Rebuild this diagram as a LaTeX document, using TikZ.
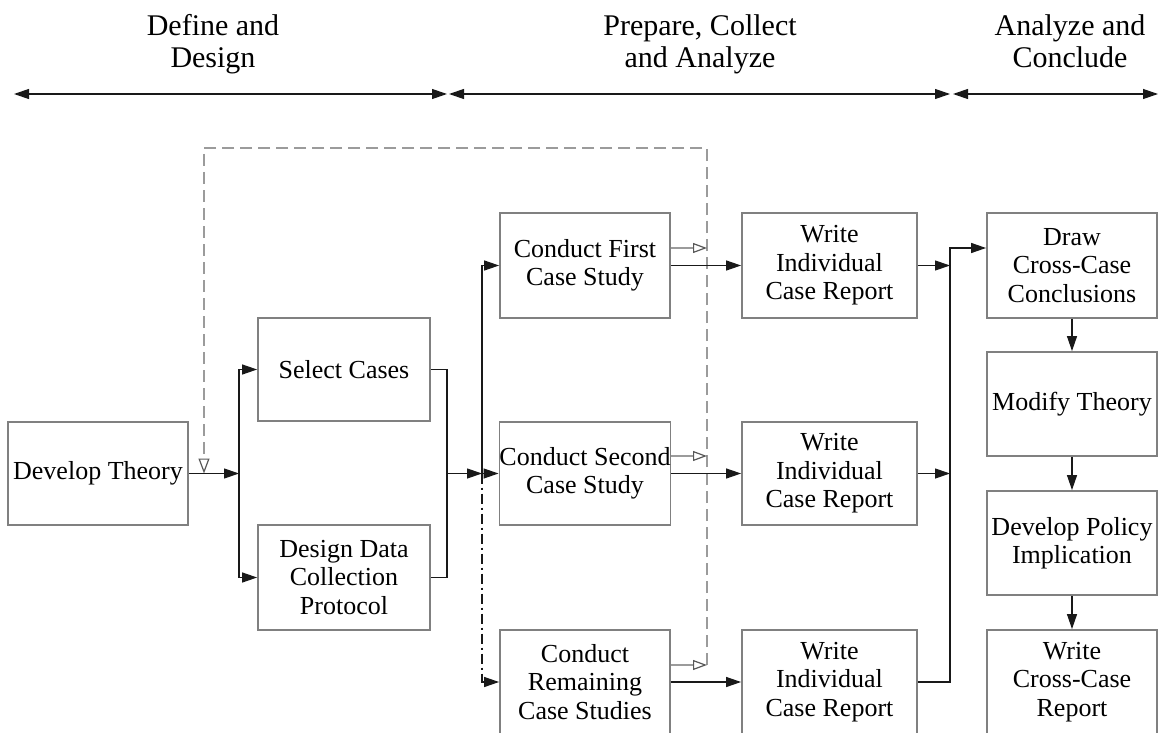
\documentclass[tikz,border=0pt]{standalone}
\usepackage{fontspec}
\setmainfont{Liberation Serif}
\usetikzlibrary{arrows.meta}
\definecolor{boxgray}{RGB}{128,128,128}
\definecolor{lnk}{RGB}{25,25,25}
\definecolor{fbgray}{RGB}{155,155,155}
\begin{document}
\begin{tikzpicture}[x=1pt,y=-1pt,
  box/.style={draw=boxgray,line width=1.8pt,align=center,inner sep=0pt,
    font=\fontsize{26}{28.5}\selectfont},
  hd/.style={align=center,inner sep=0pt,font=\fontsize{30}{32}\selectfont},
  ln/.style={draw=lnk,line width=1.2pt},
  arr/.style={ln,-{Triangle[length=15pt,width=10pt]}},
  hdr/.style={ln,{Triangle[length=15pt,width=10pt]}-{Triangle[length=15pt,width=10pt]}},
  dashdot/.style={dash pattern=on 10pt off 4pt on 2pt off 4pt},
  fb/.style={draw=fbgray,line width=2.4pt,dash pattern=on 12pt off 6pt,
    -{Triangle[open,length=15pt,width=11pt,line width=1.2pt,color=black!65]}},
  fbs/.style={draw=fbgray,line width=1.3pt,
    -{Triangle[open,length=14pt,width=10pt,line width=1.2pt,color=black!65]}}]
\useasboundingbox (0,0) rectangle (1159,733);
\clip (0,0) rectangle (1159,733);

% header
\node[hd] (t1) at (213,44) {Define and\\Design};
\node[hd] (t2) at (700,44) {Prepare, Collect\\and Analyze};
\node[hd] (t3) at (1070,41) {Analyze and\\Conclude};
\coordinate (a1) at (14,94);
\coordinate (a2) at (447,94);
\coordinate (a3) at (449,94);
\coordinate (a4) at (950,94);
\coordinate (a5) at (953,94);
\coordinate (a6) at (1158,94);
\draw[hdr] (a1) -- (a2);
\draw[hdr] (a3) -- (a4);
\draw[hdr] (a5) -- (a6);

% boxes
\node[box,minimum width=180pt,minimum height=103pt] (dt) at (98,473.5) {Develop Theory};
\node[box,minimum width=172pt,minimum height=103pt] (sc) at (344,369.5) {Select Cases};
\node[box,minimum width=172pt,minimum height=105pt] (dd) at (344,577.5) {Design Data\\Collection\\Protocol};
\node[box,minimum width=170pt,minimum height=105pt] (c1) at (585,265.5) {Conduct First\\Case Study};
\node[box,minimum width=170pt,minimum height=103pt] (c2) at (585,473.5) {Conduct Second\\Case Study};
\node[box,minimum width=170pt,minimum height=104pt] (c3) at (585,682) {Conduct\\Remaining\\Case Studies};
\node[box,minimum width=175pt,minimum height=105pt] (w1) at (829.5,265.5) {Write\\Individual\\Case Report};
\node[box,minimum width=175pt,minimum height=103pt] (w2) at (829.5,473.5) {Write\\Individual\\Case Report};
\node[box,minimum width=175pt,minimum height=104pt] (w3) at (829.5,682) {Write\\Individual\\Case Report};
\node[box,minimum width=170pt,minimum height=105pt] (dr) at (1072,265.5) {Draw\\Cross-Case\\Conclusions};
\node[box,minimum width=170pt,minimum height=104pt] (mt) at (1072,404) {Modify Theory};
\node[box,minimum width=170pt,minimum height=104pt] (dp) at (1072,543) {Develop Policy\\Implication};
\node[box,minimum width=170pt,minimum height=104pt] (wc) at (1072,682) {Write\\Cross-Case\\Report};

% feedback (dashed)
\coordinate (h1) at (707,248);
\coordinate (h2) at (707,456);
\coordinate (h3) at (707,665);
\coordinate (fR) at (707,148);
\coordinate (fL) at (204,148);
\coordinate (fT) at (204,473.5);
\draw[fb] (h3) -- (fR) -- (fL) -- (fT);
\draw[fbs] (c1.east |- h1) -- (h1);
\draw[fbs] (c2.east |- h2) -- (h2);
\draw[fbs] (c3.east |- h3) -- (h3);

% connectors
\coordinate (j1) at (239,473.5);
\draw[arr] (dt.east) -- (j1);
\draw[arr] (j1) |- (sc.west);
\draw[arr] (j1) |- (dd.west);
\coordinate (j2) at (447,473.5);
\coordinate (j3) at (482,473.5);
\draw[ln] (sc.east) -| (j2);
\draw[ln] (dd.east) -| (j2);
\draw[arr] (j2) -- (j3);
\draw[arr] (j3) |- (c1.west);
\draw[arr] (j3) -- (c2.west);
\draw[arr,dashdot] (j3) |- (c3.west);
\draw[arr] (c1.east) -- (w1.west);
\draw[arr] (c2.east) -- (w2.west);
\draw[arr] (c3.east) -- (w3.west);
\coordinate (j4) at (950,265.5);
\coordinate (j5) at (950,473.5);
\coordinate (j6) at (950,682);
\draw[arr] (w1.east) -- (j4);
\draw[arr] (w2.east) -- (j5);
\draw[arr] (w3.east) -- (j6) |- ([yshift=17.5pt]dr.west);
\draw[arr] (dr.south) -- (mt.north);
\draw[arr] (mt.south) -- (dp.north);
\draw[arr] (dp.south) -- (wc.north);
\end{tikzpicture}
\end{document}
